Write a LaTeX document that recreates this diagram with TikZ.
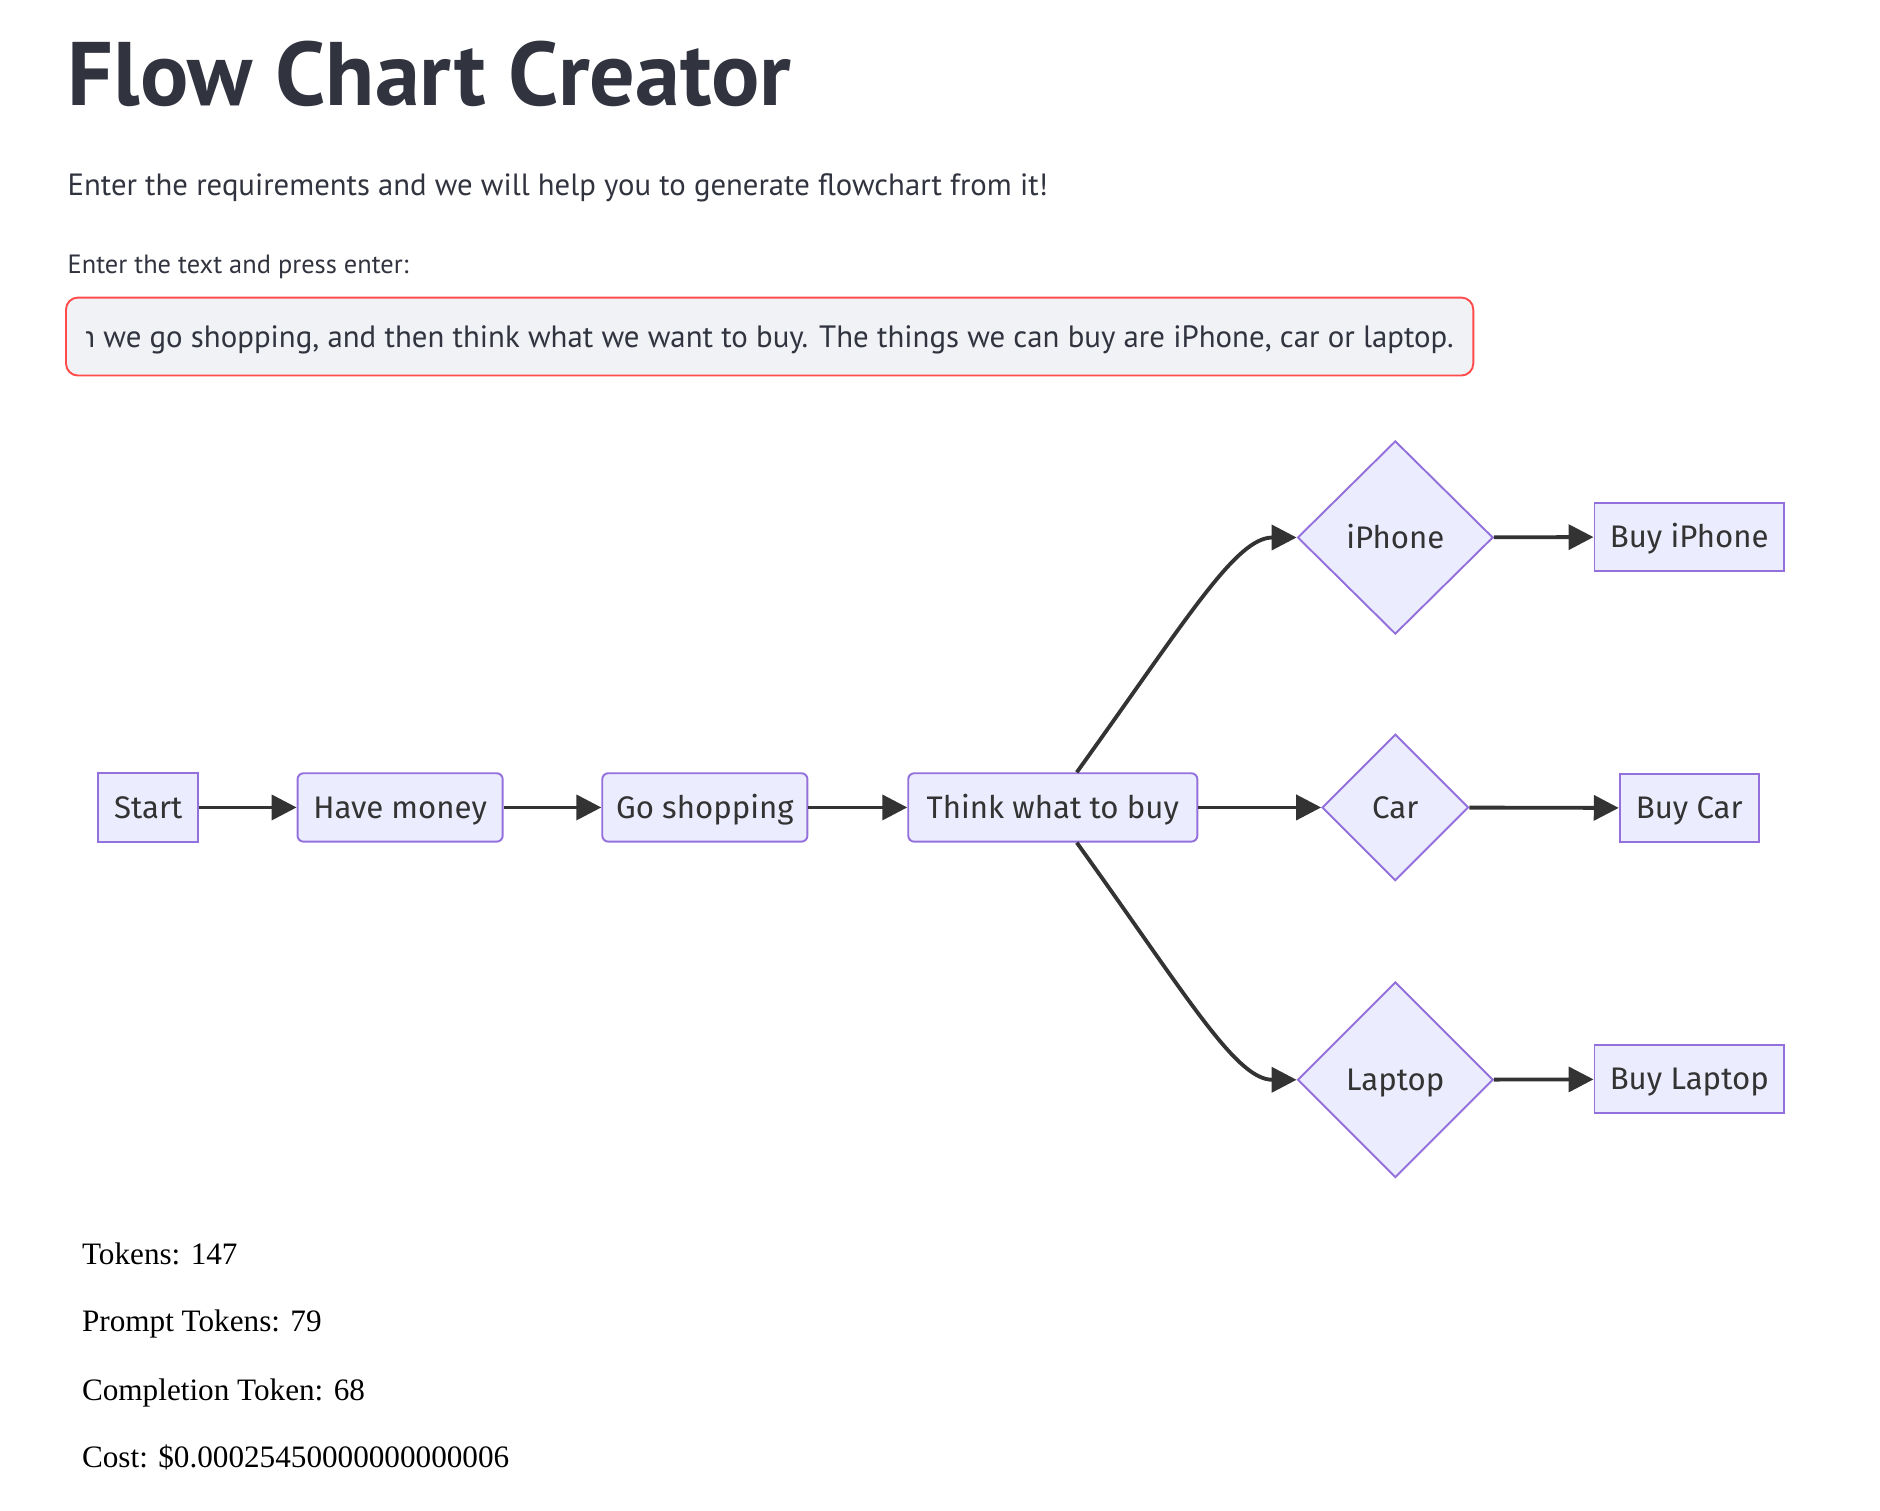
\documentclass[tikz,border=0pt]{standalone}
\usepackage{fontspec}
\setmainfont{Liberation Serif}
\newfontfamily\uifont{PT Sans}
\newfontfamily\chartfont{Fira Sans}
\usetikzlibrary{arrows.meta,shapes.geometric}
\definecolor{uitext}{HTML}{31333F}
\definecolor{inputred}{HTML}{FF4B4B}
\definecolor{inputfill}{HTML}{F0F2F6}
\definecolor{nodefill}{HTML}{ECECFF}
\definecolor{nodeline}{HTML}{9370DB}
\definecolor{edgeline}{HTML}{333333}
\tikzset{
  box/.style={draw=nodeline, fill=nodefill, line width=0.8pt, minimum height=28.5pt,
    inner xsep=3pt, text height=9pt, text depth=0pt, text=edgeline,
    font=\chartfont\fontsize{13}{15}\selectfont},
  roundbox/.style={box, rounded corners=2.5pt},
  choice/.style={box, diamond, inner sep=0pt},
  flow/.style={draw=edgeline, line width=1.6pt, -{Triangle[length=10.4pt,width=10.4pt]}},
  stat/.style={anchor=base west, inner sep=0pt, font=\fontsize{13}{15}\selectfont},
}
\begin{document}
\begin{tikzpicture}[x=0.5pt,y=-0.5pt]
  \useasboundingbox (0,0) rectangle (1567,1259);

  % page head
  \node [anchor=base west, inner sep=0pt, text=uitext, font=\uifont\bfseries\fontsize{37.6}{42}\selectfont]
    (title) at (56,88) {Flow Chart Creator};
  \node [anchor=base west, inner sep=0pt, text=uitext, font=\uifont\fontsize{12.8}{15}\selectfont]
    (intro) at (56,163) {Enter the requirements and we will help you to generate flowchart from it!};
  \node [anchor=base west, inner sep=0pt, text=uitext, font=\uifont\fontsize{11}{13}\selectfont]
    (prompt) at (56,228) {Enter the text and press enter:};

  % text input
  \draw [draw=inputred, fill=inputfill, line width=0.8pt, rounded corners=5pt] (55,248) rectangle (1228,313);
  \begin{scope}
    \clip (72,250) rectangle (1226,311);
    \node [anchor=base east, inner sep=0pt, text=uitext, font=\uifont\fontsize{12.85}{15}\selectfont]
      (request) at (1212,290) {then we go shopping, and then think what we want to buy. The things we can buy are iPhone, car or laptop.};
  \end{scope}

  % flowchart
  \node [box, minimum width=41.5pt] (start) at (123.5,673) {Start};
  \node [roundbox, minimum width=85.5pt] (money) at (333.5,673) {Have money};
  \node [roundbox, minimum width=85.5pt] (shop) at (587.5,673) {Go shopping};
  \node [roundbox, minimum width=120.5pt] (think) at (877.5,673) {Think what to buy};

  \node [choice, minimum width=81.5pt, minimum height=80.5pt] (iphone) at (1163,448) {iPhone};
  \node [choice, minimum width=61pt, minimum height=61pt] (car) at (1163,673) {Car};
  \node [choice, minimum width=81.5pt, minimum height=81.5pt] (laptop) at (1163,900) {Laptop};

  \node [box, minimum width=79pt] (buyiphone) at (1408,447.5) {Buy iPhone};
  \node [box, minimum width=58pt] (buycar) at (1408,673.5) {Buy Car};
  \node [box, minimum width=79pt] (buylaptop) at (1408,899.5) {Buy Laptop};

  \draw [flow] (start) -- (money);
  \draw [flow] (money) -- (shop);
  \draw [flow] (shop) -- (think);
  \draw [flow] ([xshift=10pt]think.north) .. controls (990,515) and (1030,448) .. (iphone.west);
  \draw [flow] (think) -- (car);
  \draw [flow] ([xshift=10pt]think.south) .. controls (990,831) and (1030,900) .. (laptop.west);
  \draw [flow] (iphone) -- (buyiphone);
  \draw [flow] (car) -- (buycar);
  \draw [flow] (laptop) -- (buylaptop);

  % usage
  \node [stat] (tokens) at (68,1054) {Tokens: 147};
  \node [stat] (prompttok) at (68,1110) {Prompt Tokens: 79};
  \node [stat] (complete) at (68,1167) {Completion Token: 68};
  \node [stat] (cost) at (68,1223) {Cost: \$0.00025450000000000006};
\end{tikzpicture}
\end{document}
